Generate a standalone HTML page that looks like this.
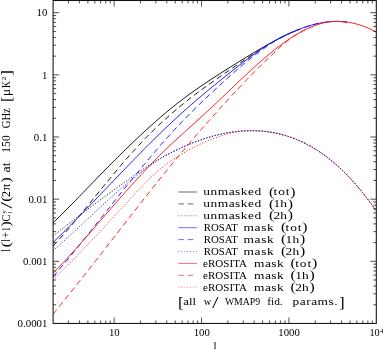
<!DOCTYPE html>
<html><head><meta charset="utf-8"><title>plot</title>
<style>
html,body{margin:0;padding:0;background:#fff;}
body{width:383px;height:349px;overflow:hidden;}
svg{display:block;will-change:transform;}
text{font-family:"Liberation Serif",serif;fill:#000;white-space:pre;}
</style></head><body>
<svg width="383" height="349" viewBox="0 0 383 349">
<rect width="383" height="349" fill="#fff"/>
<defs><clipPath id="c"><rect x="53.1" y="0.5" width="323.2" height="322.9"/></clipPath></defs>
<g clip-path="url(#c)" fill="none" stroke-width="1" stroke-linejoin="round">
<path d="M53.1,222.81 L55.1,220.87 L57.1,218.92 L59.1,216.95 L61.1,214.97 L63.1,212.98 L65.1,210.97 L67.1,208.96 L69.1,206.94 L71.1,204.90 L73.1,202.86 L75.1,200.82 L77.1,198.77 L79.1,196.71 L81.1,194.65 L83.1,192.58 L85.1,190.52 L87.1,188.45 L89.1,186.38 L91.1,184.31 L93.1,182.25 L95.1,180.18 L97.1,178.12 L99.1,176.06 L101.1,174.01 L103.1,171.97 L105.1,169.93 L107.1,167.89 L109.1,165.87 L111.1,163.85 L113.1,161.83 L115.1,159.83 L117.1,157.83 L119.1,155.85 L121.1,153.87 L123.1,151.90 L125.1,149.94 L127.1,147.99 L129.1,146.05 L131.1,144.12 L133.1,142.20 L135.1,140.30 L137.1,138.40 L139.1,136.52 L141.1,134.65 L143.1,132.79 L145.1,130.95 L147.1,129.12 L149.1,127.31 L151.1,125.51 L153.1,123.72 L155.1,121.95 L157.1,120.19 L159.1,118.45 L161.1,116.73 L163.1,115.02 L165.1,113.33 L167.1,111.66 L169.1,110.00 L171.1,108.36 L173.1,106.75 L175.1,105.15 L177.1,103.56 L179.1,102.00 L181.1,100.46 L183.1,98.94 L185.1,97.44 L187.1,95.95 L189.1,94.49 L191.1,93.04 L193.1,91.61 L195.1,90.20 L197.1,88.80 L199.1,87.41 L201.1,86.04 L203.1,84.68 L205.1,83.34 L207.1,82.00 L209.1,80.68 L211.1,79.36 L213.1,78.06 L215.1,76.76 L217.1,75.48 L219.1,74.20 L221.1,72.92 L223.1,71.65 L225.1,70.39 L227.1,69.13 L229.1,67.87 L231.1,66.61 L233.1,65.36 L235.1,64.11 L237.1,62.87 L239.1,61.63 L241.1,60.39 L243.1,59.16 L245.1,57.93 L247.1,56.71 L249.1,55.50 L251.1,54.29 L253.1,53.10 L255.1,51.91 L257.1,50.73 L259.1,49.55 L261.1,48.39 L263.1,47.24 L265.1,46.10 L267.1,44.97 L269.1,43.85 L271.1,42.75 L273.1,41.66 L275.1,40.58 L277.1,39.53 L279.1,38.49 L281.1,37.47 L283.1,36.47 L285.1,35.49 L287.1,34.53 L289.1,33.60 L291.1,32.70 L293.1,31.82 L295.1,30.97 L297.1,30.14 L299.1,29.35" stroke="#181818"/>
<path d="M53.1,246.00 L55.1,243.85 L57.1,241.67 L59.1,239.46 L61.1,237.23 L63.1,234.97 L65.1,232.68 L67.1,230.38 L69.1,228.06 L71.1,225.71 L73.1,223.35 L75.1,220.97 L77.1,218.58 L79.1,216.17 L81.1,213.75 L83.1,211.33 L85.1,208.89 L87.1,206.44 L89.1,203.99 L91.1,201.54 L93.1,199.08 L95.1,196.62 L97.1,194.15 L99.1,191.69 L101.1,189.24 L103.1,186.78 L105.1,184.34 L107.1,181.89 L109.1,179.46 L111.1,177.04 L113.1,174.63 L115.1,172.23 L117.1,169.84 L119.1,167.47 L121.1,165.12 L123.1,162.79 L125.1,160.47 L127.1,158.18 L129.1,155.91 L131.1,153.66 L133.1,151.44 L135.1,149.25 L137.1,147.08 L139.1,144.94 L141.1,142.83 L143.1,140.73 L145.1,138.67 L147.1,136.63 L149.1,134.62 L151.1,132.62 L153.1,130.66 L155.1,128.72 L157.1,126.80 L159.1,124.90 L161.1,123.03 L163.1,121.18 L165.1,119.36 L167.1,117.55 L169.1,115.77 L171.1,114.01 L173.1,112.27 L175.1,110.56 L177.1,108.86 L179.1,107.19 L181.1,105.54 L183.1,103.91 L185.1,102.29 L187.1,100.70 L189.1,99.13 L191.1,97.58 L193.1,96.04 L195.1,94.52 L197.1,93.02 L199.1,91.53 L201.1,90.06 L203.1,88.60 L205.1,87.15 L207.1,85.71 L209.1,84.29 L211.1,82.87 L213.1,81.47 L215.1,80.07 L217.1,78.68 L219.1,77.29 L221.1,75.91 L223.1,74.54 L225.1,73.17 L227.1,71.80 L229.1,70.43 L231.1,69.07 L233.1,67.70 L235.1,66.34 L237.1,64.98 L239.1,63.63 L241.1,62.28 L243.1,60.93 L245.1,59.59 L247.1,58.26 L249.1,56.94 L251.1,55.63 L253.1,54.33 L255.1,53.04 L257.1,51.75 L259.1,50.46 L261.1,49.18 L263.1,47.90 L265.1,46.65 L267.1,45.41 L269.1,44.20 L271.1,43.02 L273.1,41.86 L275.1,40.73 L277.1,39.63 L279.1,38.55 L281.1,37.51 L283.1,36.49 L285.1,35.50 L287.1,34.54 L289.1,33.60 L291.1,32.70 L293.1,31.82 L295.1,30.97 L297.1,30.14 L299.1,29.35" stroke="#181818" stroke-dasharray="5.7 3.7"/>
<path d="M53.1,236.08 L55.1,234.48 L57.1,232.88 L59.1,231.29 L61.1,229.71 L63.1,228.13 L65.1,226.56 L67.1,225.00 L69.1,223.44 L71.1,221.89 L73.1,220.35 L75.1,218.81 L77.1,217.27 L79.1,215.75 L81.1,214.22 L83.1,212.71 L85.1,211.20 L87.1,209.69 L89.1,208.19 L91.1,206.70 L93.1,205.21 L95.1,203.72 L97.1,202.24 L99.1,200.77 L101.1,199.29 L103.1,197.83 L105.1,196.36 L107.1,194.91 L109.1,193.45 L111.1,192.00 L113.1,190.56 L115.1,189.11 L117.1,187.67 L119.1,186.24 L121.1,184.81 L123.1,183.38 L125.1,181.95 L127.1,180.53 L129.1,179.11 L131.1,177.69 L133.1,176.28 L135.1,174.87 L137.1,173.47 L139.1,172.08 L141.1,170.70 L143.1,169.34 L145.1,167.99 L147.1,166.66 L149.1,165.34 L151.1,164.05 L153.1,162.78 L155.1,161.54 L157.1,160.33 L159.1,159.14 L161.1,157.98 L163.1,156.86 L165.1,155.76 L167.1,154.70 L169.1,153.65 L171.1,152.64 L173.1,151.64 L175.1,150.66 L177.1,149.71 L179.1,148.77 L181.1,147.85 L183.1,146.95 L185.1,146.07 L187.1,145.21 L189.1,144.37 L191.1,143.55 L193.1,142.76 L195.1,141.98 L197.1,141.23 L199.1,140.50 L201.1,139.79 L203.1,139.11 L205.1,138.45 L207.1,137.81 L209.1,137.20 L211.1,136.61 L213.1,136.05 L215.1,135.52 L217.1,135.01 L219.1,134.52 L221.1,134.07 L223.1,133.64 L225.1,133.24 L227.1,132.87 L229.1,132.52 L231.1,132.21 L233.1,131.92 L235.1,131.66 L237.1,131.43 L239.1,131.23 L241.1,131.06 L243.1,130.92 L245.1,130.81 L247.1,130.73 L249.1,130.68 L251.1,130.66 L253.1,130.68 L255.1,130.72 L257.1,130.80 L259.1,130.91 L261.1,131.05 L263.1,131.22 L265.1,131.43 L267.1,131.67 L269.1,131.95 L271.1,132.26 L273.1,132.60 L275.1,132.99 L277.1,133.40 L279.1,133.86 L281.1,134.35 L283.1,134.88 L285.1,135.45 L287.1,136.06 L289.1,136.70 L291.1,137.39 L293.1,138.12 L295.1,138.89 L297.1,139.70 L299.1,140.55 L301.1,141.45 L303.1,142.39 L305.1,143.37 L307.1,144.40 L309.1,145.47 L311.1,146.59 L313.1,147.75 L315.1,148.96 L317.1,150.22 L319.1,151.52 L321.1,152.87 L323.1,154.27 L325.1,155.72 L327.1,157.22 L329.1,158.77 L331.1,160.37 L333.1,162.02 L335.1,163.73 L337.1,165.48 L339.1,167.29 L341.1,169.15 L343.1,171.06 L345.1,173.03 L347.1,175.06 L349.1,177.14 L351.1,179.27 L353.1,181.46 L355.1,183.71 L357.1,186.02 L359.1,188.38 L361.1,190.80 L363.1,193.29 L365.1,195.83 L367.1,198.43 L369.1,201.09 L371.1,203.81 L373.1,206.60 L376.3,211.18" stroke="#181818" stroke-dasharray="1.2 1.75" stroke-width="0.95"/>
<path d="M53.1,242.42 L55.1,240.48 L57.1,238.53 L59.1,236.57 L61.1,234.60 L63.1,232.62 L65.1,230.63 L67.1,228.63 L69.1,226.62 L71.1,224.61 L73.1,222.58 L75.1,220.55 L77.1,218.52 L79.1,216.48 L81.1,214.43 L83.1,212.38 L85.1,210.32 L87.1,208.25 L89.1,206.19 L91.1,204.12 L93.1,202.04 L95.1,199.97 L97.1,197.89 L99.1,195.80 L101.1,193.72 L103.1,191.64 L105.1,189.55 L107.1,187.46 L109.1,185.38 L111.1,183.29 L113.1,181.21 L115.1,179.12 L117.1,177.04 L119.1,174.96 L121.1,172.88 L123.1,170.80 L125.1,168.73 L127.1,166.66 L129.1,164.60 L131.1,162.54 L133.1,160.48 L135.1,158.43 L137.1,156.38 L139.1,154.34 L141.1,152.31 L143.1,150.28 L145.1,148.27 L147.1,146.25 L149.1,144.25 L151.1,142.26 L153.1,140.27 L155.1,138.29 L157.1,136.33 L159.1,134.37 L161.1,132.42 L163.1,130.49 L165.1,128.56 L167.1,126.65 L169.1,124.75 L171.1,122.86 L173.1,120.99 L175.1,119.13 L177.1,117.28 L179.1,115.44 L181.1,113.62 L183.1,111.82 L185.1,110.03 L187.1,108.26 L189.1,106.50 L191.1,104.75 L193.1,103.02 L195.1,101.29 L197.1,99.59 L199.1,97.89 L201.1,96.20 L203.1,94.52 L205.1,92.85 L207.1,91.19 L209.1,89.54 L211.1,87.90 L213.1,86.26 L215.1,84.64 L217.1,83.01 L219.1,81.39 L221.1,79.78 L223.1,78.17 L225.1,76.57 L227.1,74.97 L229.1,73.37 L231.1,71.79 L233.1,70.21 L235.1,68.63 L237.1,67.07 L239.1,65.51 L241.1,63.97 L243.1,62.44 L245.1,60.92 L247.1,59.42 L249.1,57.93 L251.1,56.46 L253.1,54.97 L255.1,53.49 L257.1,52.03 L259.1,50.59 L261.1,49.19 L263.1,47.83 L265.1,46.51 L267.1,45.25 L269.1,44.02 L271.1,42.84 L273.1,41.70 L275.1,40.60 L277.1,39.52 L279.1,38.48 L281.1,37.46 L283.1,36.47 L285.1,35.49 L287.1,34.53 L289.1,33.60 L291.1,32.70 L293.1,31.82 L295.1,30.97 L297.1,30.14 L299.1,29.35 L301.1,28.58 L303.1,27.85 L305.1,27.15 L307.1,26.49 L309.1,25.86 L311.1,25.27 L313.1,24.72 L315.1,24.20 L317.1,23.73 L319.1,23.29 L321.1,22.90 L323.1,22.55 L325.1,22.25 L327.1,21.99 L329.1,21.78 L331.1,21.62 L333.1,21.51 L335.1,21.44 L337.1,21.43 L339.1,21.46 L341.1,21.55 L343.1,21.68 L345.1,21.87 L347.1,22.12" stroke="#2020ff"/>
<path d="M53.1,276.75 L55.1,274.42 L57.1,272.07 L59.1,269.70 L61.1,267.33 L63.1,264.94 L65.1,262.54 L67.1,260.12 L69.1,257.70 L71.1,255.27 L73.1,252.82 L75.1,250.37 L77.1,247.91 L79.1,245.44 L81.1,242.97 L83.1,240.48 L85.1,237.99 L87.1,235.50 L89.1,233.00 L91.1,230.50 L93.1,227.99 L95.1,225.48 L97.1,222.96 L99.1,220.45 L101.1,217.93 L103.1,215.41 L105.1,212.89 L107.1,210.38 L109.1,207.86 L111.1,205.34 L113.1,202.83 L115.1,200.32 L117.1,197.81 L119.1,195.31 L121.1,192.80 L123.1,190.31 L125.1,187.82 L127.1,185.34 L129.1,182.86 L131.1,180.39 L133.1,177.93 L135.1,175.47 L137.1,173.03 L139.1,170.59 L141.1,168.17 L143.1,165.75 L145.1,163.35 L147.1,160.96 L149.1,158.58 L151.1,156.22 L153.1,153.87 L155.1,151.53 L157.1,149.20 L159.1,146.90 L161.1,144.61 L163.1,142.33 L165.1,140.07 L167.1,137.83 L169.1,135.61 L171.1,133.41 L173.1,131.23 L175.1,129.06 L177.1,126.92 L179.1,124.80 L181.1,122.70 L183.1,120.62 L185.1,118.56 L187.1,116.52 L189.1,114.50 L191.1,112.49 L193.1,110.51 L195.1,108.53 L197.1,106.58 L199.1,104.63 L201.1,102.71 L203.1,100.79 L205.1,98.88 L207.1,96.99 L209.1,95.11 L211.1,93.23 L213.1,91.37 L215.1,89.51 L217.1,87.65 L219.1,85.81 L221.1,83.97 L223.1,82.14 L225.1,80.32 L227.1,78.51 L229.1,76.71 L231.1,74.92 L233.1,73.15 L235.1,71.39 L237.1,69.65 L239.1,67.93 L241.1,66.23 L243.1,64.54 L245.1,62.88 L247.1,61.25 L249.1,59.63 L251.1,58.05 L253.1,56.49 L255.1,54.95 L257.1,53.45 L259.1,51.97 L261.1,50.51 L263.1,49.06 L265.1,47.62 L267.1,46.20 L269.1,44.82 L271.1,43.49 L273.1,42.20 L275.1,40.96 L277.1,39.78 L279.1,38.64 L281.1,37.55 L283.1,36.50 L285.1,35.50 L287.1,34.53 L289.1,33.60 L291.1,32.69 L293.1,31.82 L295.1,30.97 L297.1,30.14 L299.1,29.35 L301.1,28.58 L303.1,27.85 L305.1,27.15 L307.1,26.49 L309.1,25.86 L311.1,25.27 L313.1,24.72 L315.1,24.20 L317.1,23.73 L319.1,23.29 L321.1,22.90 L323.1,22.55 L325.1,22.25 L327.1,21.99 L329.1,21.78 L331.1,21.62 L333.1,21.51 L335.1,21.44 L337.1,21.43 L339.1,21.46 L341.1,21.55 L343.1,21.68 L345.1,21.87 L347.1,22.12" stroke="#2020ff" stroke-dasharray="5.7 3.7"/>
<path d="M53.1,250.66 L55.1,248.88 L57.1,247.09 L59.1,245.29 L61.1,243.48 L63.1,241.66 L65.1,239.84 L67.1,238.00 L69.1,236.16 L71.1,234.32 L73.1,232.46 L75.1,230.61 L77.1,228.75 L79.1,226.89 L81.1,225.03 L83.1,223.16 L85.1,221.30 L87.1,219.44 L89.1,217.58 L91.1,215.72 L93.1,213.86 L95.1,212.01 L97.1,210.16 L99.1,208.32 L101.1,206.49 L103.1,204.66 L105.1,202.84 L107.1,201.03 L109.1,199.23 L111.1,197.44 L113.1,195.66 L115.1,193.89 L117.1,192.14 L119.1,190.40 L121.1,188.67 L123.1,186.96 L125.1,185.26 L127.1,183.58 L129.1,181.92 L131.1,180.28 L133.1,178.66 L135.1,177.05 L137.1,175.47 L139.1,173.91 L141.1,172.37 L143.1,170.86 L145.1,169.37 L147.1,167.90 L149.1,166.46 L151.1,165.04 L153.1,163.63 L155.1,162.24 L157.1,160.88 L159.1,159.55 L161.1,158.27 L163.1,157.04 L165.1,155.86 L167.1,154.73 L169.1,153.65 L171.1,152.61 L173.1,151.62 L175.1,150.65 L177.1,149.70 L179.1,148.77 L181.1,147.85 L183.1,146.95 L185.1,146.07 L187.1,145.21 L189.1,144.37 L191.1,143.55 L193.1,142.76 L195.1,141.98 L197.1,141.23 L199.1,140.50 L201.1,139.79 L203.1,139.11 L205.1,138.45 L207.1,137.81 L209.1,137.20 L211.1,136.61 L213.1,136.05 L215.1,135.52 L217.1,135.01 L219.1,134.52 L221.1,134.07 L223.1,133.64 L225.1,133.24 L227.1,132.87 L229.1,132.52 L231.1,132.21 L233.1,131.92 L235.1,131.66 L237.1,131.43 L239.1,131.23 L241.1,131.06 L243.1,130.92 L245.1,130.81 L247.1,130.73 L249.1,130.68 L251.1,130.66 L253.1,130.68 L255.1,130.72 L257.1,130.80 L259.1,130.91 L261.1,131.05 L263.1,131.22 L265.1,131.43 L267.1,131.67 L269.1,131.95 L271.1,132.26 L273.1,132.60 L275.1,132.99 L277.1,133.40 L279.1,133.86 L281.1,134.35 L283.1,134.88 L285.1,135.45 L287.1,136.06 L289.1,136.70 L291.1,137.39 L293.1,138.12 L295.1,138.89 L297.1,139.70 L299.1,140.55 L301.1,141.45 L303.1,142.39 L305.1,143.37 L307.1,144.40 L309.1,145.47 L311.1,146.59 L313.1,147.75 L315.1,148.96 L317.1,150.22 L319.1,151.52 L321.1,152.87 L323.1,154.27 L325.1,155.72 L327.1,157.22 L329.1,158.77 L331.1,160.37 L333.1,162.02 L335.1,163.73 L337.1,165.48 L339.1,167.29 L341.1,169.15 L343.1,171.06 L345.1,173.03 L347.1,175.06 L349.1,177.14 L351.1,179.27 L353.1,181.46 L355.1,183.71 L357.1,186.02 L359.1,188.38 L361.1,190.80 L363.1,193.29 L365.1,195.83 L367.1,198.43 L369.1,201.09 L371.1,203.81 L373.1,206.60 L376.3,211.18" stroke="#2020ff" stroke-dasharray="1.2 1.75" stroke-width="0.95"/>
<path d="M53.1,273.29 L55.1,271.22 L57.1,269.13 L59.1,267.02 L61.1,264.90 L63.1,262.75 L65.1,260.59 L67.1,258.42 L69.1,256.23 L71.1,254.03 L73.1,251.81 L75.1,249.59 L77.1,247.35 L79.1,245.10 L81.1,242.84 L83.1,240.58 L85.1,238.30 L87.1,236.02 L89.1,233.73 L91.1,231.44 L93.1,229.14 L95.1,226.84 L97.1,224.53 L99.1,222.23 L101.1,219.92 L103.1,217.61 L105.1,215.30 L107.1,212.99 L109.1,210.68 L111.1,208.38 L113.1,206.08 L115.1,203.78 L117.1,201.49 L119.1,199.20 L121.1,196.92 L123.1,194.65 L125.1,192.39 L127.1,190.14 L129.1,187.89 L131.1,185.66 L133.1,183.43 L135.1,181.22 L137.1,179.03 L139.1,176.84 L141.1,174.67 L143.1,172.52 L145.1,170.38 L147.1,168.26 L149.1,166.16 L151.1,164.08 L153.1,162.02 L155.1,159.97 L157.1,157.95 L159.1,155.95 L161.1,153.97 L163.1,152.02 L165.1,150.08 L167.1,148.17 L169.1,146.27 L171.1,144.39 L173.1,142.52 L175.1,140.67 L177.1,138.83 L179.1,137.00 L181.1,135.18 L183.1,133.36 L185.1,131.55 L187.1,129.75 L189.1,127.94 L191.1,126.14 L193.1,124.34 L195.1,122.54 L197.1,120.73 L199.1,118.92 L201.1,117.10 L203.1,115.27 L205.1,113.44 L207.1,111.59 L209.1,109.73 L211.1,107.86 L213.1,105.98 L215.1,104.10 L217.1,102.20 L219.1,100.30 L221.1,98.40 L223.1,96.49 L225.1,94.58 L227.1,92.67 L229.1,90.75 L231.1,88.84 L233.1,86.93 L235.1,85.03 L237.1,83.13 L239.1,81.23 L241.1,79.34 L243.1,77.46 L245.1,75.59 L247.1,73.72 L249.1,71.87 L251.1,70.03 L253.1,68.21 L255.1,66.40 L257.1,64.60 L259.1,62.83 L261.1,61.07 L263.1,59.33 L265.1,57.61 L267.1,55.92 L269.1,54.24 L271.1,52.60 L273.1,50.98 L275.1,49.38 L277.1,47.82 L279.1,46.29 L281.1,44.79 L283.1,43.32 L285.1,41.89 L287.1,40.50 L289.1,39.14 L291.1,37.82 L293.1,36.54 L295.1,35.30 L297.1,34.11 L299.1,32.96 L301.1,31.86 L303.1,30.81 L305.1,29.80 L307.1,28.84 L309.1,27.94 L311.1,27.08 L313.1,26.26 L315.1,25.47 L317.1,24.75 L319.1,24.08 L321.1,23.49 L323.1,22.98 L325.1,22.54 L327.1,22.18 L329.1,21.90 L331.1,21.68 L333.1,21.53 L335.1,21.45 L337.1,21.43 L339.1,21.46 L341.1,21.54 L343.1,21.68 L345.1,21.87 L347.1,22.12 L349.1,22.42 L351.1,22.77 L353.1,23.18 L355.1,23.64 L357.1,24.16 L359.1,24.74 L361.1,25.38 L363.1,26.08 L365.1,26.83 L367.1,27.65 L369.1,28.53 L371.1,29.47 L373.1,30.48 L376.3,32.22" stroke="#ff2020"/>
<path d="M53.1,313.94 L55.1,311.52 L57.1,309.09 L59.1,306.65 L61.1,304.21 L63.1,301.75 L65.1,299.28 L67.1,296.81 L69.1,294.33 L71.1,291.84 L73.1,289.34 L75.1,286.84 L77.1,284.33 L79.1,281.81 L81.1,279.29 L83.1,276.76 L85.1,274.23 L87.1,271.69 L89.1,269.15 L91.1,266.61 L93.1,264.06 L95.1,261.50 L97.1,258.95 L99.1,256.39 L101.1,253.82 L103.1,251.26 L105.1,248.69 L107.1,246.13 L109.1,243.56 L111.1,240.99 L113.1,238.42 L115.1,235.85 L117.1,233.28 L119.1,230.71 L121.1,228.14 L123.1,225.58 L125.1,223.01 L127.1,220.45 L129.1,217.89 L131.1,215.33 L133.1,212.77 L135.1,210.22 L137.1,207.67 L139.1,205.13 L141.1,202.59 L143.1,200.05 L145.1,197.52 L147.1,194.99 L149.1,192.47 L151.1,189.96 L153.1,187.45 L155.1,184.95 L157.1,182.45 L159.1,179.97 L161.1,177.49 L163.1,175.02 L165.1,172.55 L167.1,170.10 L169.1,167.65 L171.1,165.21 L173.1,162.78 L175.1,160.36 L177.1,157.94 L179.1,155.53 L181.1,153.14 L183.1,150.75 L185.1,148.37 L187.1,146.00 L189.1,143.64 L191.1,141.28 L193.1,138.94 L195.1,136.60 L197.1,134.28 L199.1,131.96 L201.1,129.66 L203.1,127.36 L205.1,125.07 L207.1,122.79 L209.1,120.52 L211.1,118.27 L213.1,116.02 L215.1,113.78 L217.1,111.55 L219.1,109.33 L221.1,107.13 L223.1,104.93 L225.1,102.74 L227.1,100.57 L229.1,98.40 L231.1,96.24 L233.1,94.10 L235.1,91.97 L237.1,89.84 L239.1,87.73 L241.1,85.63 L243.1,83.54 L245.1,81.47 L247.1,79.40 L249.1,77.35 L251.1,75.30 L253.1,73.27 L255.1,71.25 L257.1,69.24 L259.1,67.25 L261.1,65.26 L263.1,63.29 L265.1,61.34 L267.1,59.40 L269.1,57.49 L271.1,55.59 L273.1,53.67 L275.1,51.76 L277.1,49.86 L279.1,47.99 L281.1,46.18 L283.1,44.42 L285.1,42.73 L287.1,41.11 L289.1,39.57 L291.1,38.10 L293.1,36.71 L295.1,35.40 L297.1,34.16 L299.1,32.98 L301.1,31.87 L303.1,30.81 L305.1,29.80 L307.1,28.84 L309.1,27.94 L311.1,27.08" stroke="#ff2020" stroke-dasharray="5.7 3.7"/>
<path d="M53.1,279.57 L55.1,277.62 L57.1,275.66 L59.1,273.70 L61.1,271.73 L63.1,269.75 L65.1,267.76 L67.1,265.77 L69.1,263.77 L71.1,261.76 L73.1,259.74 L75.1,257.72 L77.1,255.68 L79.1,253.64 L81.1,251.59 L83.1,249.52 L85.1,247.45 L87.1,245.37 L89.1,243.28 L91.1,241.18 L93.1,239.07 L95.1,236.95 L97.1,234.82 L99.1,232.68 L101.1,230.52 L103.1,228.36 L105.1,226.19 L107.1,224.01 L109.1,221.82 L111.1,219.63 L113.1,217.44 L115.1,215.24 L117.1,213.05 L119.1,210.85 L121.1,208.66 L123.1,206.48 L125.1,204.30 L127.1,202.12 L129.1,199.96 L131.1,197.81 L133.1,195.66 L135.1,193.54 L137.1,191.42 L139.1,189.33 L141.1,187.26 L143.1,185.22 L145.1,183.20 L147.1,181.22 L149.1,179.27 L151.1,177.36 L153.1,175.49 L155.1,173.66 L157.1,171.89 L159.1,170.16 L161.1,168.48 L163.1,166.86 L165.1,165.30 L167.1,163.78 L169.1,162.31 L171.1,160.88 L173.1,159.50 L175.1,158.16 L177.1,156.87 L179.1,155.61 L181.1,154.38 L183.1,153.19 L185.1,152.03 L187.1,150.91 L189.1,149.81 L191.1,148.73 L193.1,147.68 L195.1,146.66 L197.1,145.66 L199.1,144.68 L201.1,143.74 L203.1,142.82 L205.1,141.92 L207.1,141.06 L209.1,140.23 L211.1,139.42 L213.1,138.65 L215.1,137.91 L217.1,137.20 L219.1,136.52 L221.1,135.88 L223.1,135.27 L225.1,134.70 L227.1,134.15 L229.1,133.62 L231.1,133.12 L233.1,132.66 L235.1,132.24 L237.1,131.87 L239.1,131.55 L241.1,131.29 L243.1,131.07 L245.1,130.90 L247.1,130.78 L249.1,130.70 L251.1,130.67 L253.1,130.67 L255.1,130.72 L257.1,130.80 L259.1,130.91 L261.1,131.05 L263.1,131.22 L265.1,131.43 L267.1,131.67 L269.1,131.95 L271.1,132.26 L273.1,132.60 L275.1,132.99 L277.1,133.40 L279.1,133.86 L281.1,134.35 L283.1,134.88 L285.1,135.45 L287.1,136.06 L289.1,136.70 L291.1,137.39 L293.1,138.12 L295.1,138.89 L297.1,139.70 L299.1,140.55 L301.1,141.45 L303.1,142.39 L305.1,143.37 L307.1,144.40 L309.1,145.47 L311.1,146.59 L313.1,147.75 L315.1,148.96 L317.1,150.22 L319.1,151.52 L321.1,152.87 L323.1,154.27 L325.1,155.72 L327.1,157.22 L329.1,158.77 L331.1,160.37 L333.1,162.02 L335.1,163.73 L337.1,165.48 L339.1,167.29 L341.1,169.15 L343.1,171.06 L345.1,173.03 L347.1,175.06 L349.1,177.14 L351.1,179.27 L353.1,181.46 L355.1,183.71 L357.1,186.02 L359.1,188.38 L361.1,190.80 L363.1,193.29 L365.1,195.83 L367.1,198.43 L369.1,201.09 L371.1,203.81 L373.1,206.60 L376.3,211.18" stroke="#ff2020" stroke-dasharray="1.2 1.75" stroke-width="0.95"/>
</g>
<path d="M68.49,323.45v-3.00M68.49,0.50v3.00M79.40,323.45v-3.00M79.40,0.50v3.00M87.87,323.45v-3.00M87.87,0.50v3.00M94.79,323.45v-3.00M94.79,0.50v3.00M100.64,323.45v-3.00M100.64,0.50v3.00M105.71,323.45v-3.00M105.71,0.50v3.00M110.17,323.45v-3.00M110.17,0.50v3.00M114.17,323.45v-6.00M114.17,0.50v6.00M140.48,323.45v-3.00M140.48,0.50v3.00M155.86,323.45v-3.00M155.86,0.50v3.00M166.78,323.45v-3.00M166.78,0.50v3.00M175.25,323.45v-3.00M175.25,0.50v3.00M182.16,323.45v-3.00M182.16,0.50v3.00M188.01,323.45v-3.00M188.01,0.50v3.00M193.08,323.45v-3.00M193.08,0.50v3.00M197.55,323.45v-3.00M197.55,0.50v3.00M201.55,323.45v-6.00M201.55,0.50v6.00M227.85,323.45v-3.00M227.85,0.50v3.00M243.24,323.45v-3.00M243.24,0.50v3.00M254.15,323.45v-3.00M254.15,0.50v3.00M262.62,323.45v-3.00M262.62,0.50v3.00M269.54,323.45v-3.00M269.54,0.50v3.00M275.39,323.45v-3.00M275.39,0.50v3.00M280.46,323.45v-3.00M280.46,0.50v3.00M284.93,323.45v-3.00M284.93,0.50v3.00M288.92,323.45v-6.00M288.92,0.50v6.00M315.23,323.45v-3.00M315.23,0.50v3.00M330.61,323.45v-3.00M330.61,0.50v3.00M341.53,323.45v-3.00M341.53,0.50v3.00M350.00,323.45v-3.00M350.00,0.50v3.00M356.92,323.45v-3.00M356.92,0.50v3.00M362.77,323.45v-3.00M362.77,0.50v3.00M367.83,323.45v-3.00M367.83,0.50v3.00M372.30,323.45v-3.00M372.30,0.50v3.00M53.10,304.74h3.00M376.30,304.74h-3.00M53.10,293.80h3.00M376.30,293.80h-3.00M53.10,286.03h3.00M376.30,286.03h-3.00M53.10,280.01h3.00M376.30,280.01h-3.00M53.10,275.09h3.00M376.30,275.09h-3.00M53.10,270.93h3.00M376.30,270.93h-3.00M53.10,267.32h3.00M376.30,267.32h-3.00M53.10,264.14h3.00M376.30,264.14h-3.00M53.10,261.30h6.00M376.30,261.30h-6.00M53.10,242.59h3.00M376.30,242.59h-3.00M53.10,231.65h3.00M376.30,231.65h-3.00M53.10,223.88h3.00M376.30,223.88h-3.00M53.10,217.86h3.00M376.30,217.86h-3.00M53.10,212.94h3.00M376.30,212.94h-3.00M53.10,208.78h3.00M376.30,208.78h-3.00M53.10,205.17h3.00M376.30,205.17h-3.00M53.10,201.99h3.00M376.30,201.99h-3.00M53.10,199.15h6.00M376.30,199.15h-6.00M53.10,180.44h3.00M376.30,180.44h-3.00M53.10,169.50h3.00M376.30,169.50h-3.00M53.10,161.73h3.00M376.30,161.73h-3.00M53.10,155.71h3.00M376.30,155.71h-3.00M53.10,150.79h3.00M376.30,150.79h-3.00M53.10,146.63h3.00M376.30,146.63h-3.00M53.10,143.02h3.00M376.30,143.02h-3.00M53.10,139.84h3.00M376.30,139.84h-3.00M53.10,137.00h6.00M376.30,137.00h-6.00M53.10,118.29h3.00M376.30,118.29h-3.00M53.10,107.35h3.00M376.30,107.35h-3.00M53.10,99.58h3.00M376.30,99.58h-3.00M53.10,93.56h3.00M376.30,93.56h-3.00M53.10,88.64h3.00M376.30,88.64h-3.00M53.10,84.48h3.00M376.30,84.48h-3.00M53.10,80.87h3.00M376.30,80.87h-3.00M53.10,77.69h3.00M376.30,77.69h-3.00M53.10,74.85h6.00M376.30,74.85h-6.00M53.10,56.14h3.00M376.30,56.14h-3.00M53.10,45.20h3.00M376.30,45.20h-3.00M53.10,37.43h3.00M376.30,37.43h-3.00M53.10,31.41h3.00M376.30,31.41h-3.00M53.10,26.49h3.00M376.30,26.49h-3.00M53.10,22.33h3.00M376.30,22.33h-3.00M53.10,18.72h3.00M376.30,18.72h-3.00M53.10,15.54h3.00M376.30,15.54h-3.00M53.10,12.70h6.00M376.30,12.70h-6.00" stroke="#222" stroke-width="0.8" fill="none"/>
<rect x="53.10" y="0.50" width="323.20" height="322.95" fill="none" stroke="#111" stroke-width="1.05"/>
<text transform="translate(36.6,16.45) scale(1.2,1)" font-size="10"><tspan x="0" y="0" textLength="9" lengthAdjust="spacingAndGlyphs">10</tspan></text>
<text transform="translate(42,78.6) scale(1.2,1)" font-size="10"><tspan x="0" y="0" textLength="4.5" lengthAdjust="spacingAndGlyphs">1</tspan></text>
<text transform="translate(33.8,140.75) scale(1.2,1)" font-size="10"><tspan x="0" y="0" textLength="11.33" lengthAdjust="spacingAndGlyphs">0.1</tspan></text>
<text transform="translate(28.4,202.9) scale(1.2,1)" font-size="10"><tspan x="0" y="0" textLength="15.83" lengthAdjust="spacingAndGlyphs">0.01</tspan></text>
<text transform="translate(23,265.05) scale(1.2,1)" font-size="10"><tspan x="0" y="0" textLength="20.33" lengthAdjust="spacingAndGlyphs">0.001</tspan></text>
<text transform="translate(17.6,327.2) scale(1.2,1)" font-size="10"><tspan x="0" y="0" textLength="24.83" lengthAdjust="spacingAndGlyphs">0.0001</tspan></text>
<text transform="translate(108.97,335.6) scale(1.2,1)" font-size="10"><tspan x="0" y="0" textLength="9" lengthAdjust="spacingAndGlyphs">10</tspan></text>
<text transform="translate(193.65,335.6) scale(1.2,1)" font-size="10"><tspan x="0" y="0" textLength="13.5" lengthAdjust="spacingAndGlyphs">100</tspan></text>
<text transform="translate(278.32,335.6) scale(1.2,1)" font-size="10"><tspan x="0" y="0" textLength="18" lengthAdjust="spacingAndGlyphs">1000</tspan></text>
<text transform="translate(369.4,335.6) scale(1.2,1)" font-size="10"><tspan x="0" y="0" textLength="8.58" lengthAdjust="spacingAndGlyphs">10</tspan><tspan x="8.92" y="-2.3" font-size="6.5" textLength="3" lengthAdjust="spacingAndGlyphs">4</tspan></text>
<text x="213.4" y="349.3" font-size="11">l</text>
<text transform="translate(9.5,252) rotate(-90) scale(1.2,1)" font-size="11.5"><tspan x="0.5" y="0" textLength="2" lengthAdjust="spacingAndGlyphs">l</tspan><tspan x="3.94" y="0.3" font-size="13.1">(</tspan><tspan x="8.58" y="0" textLength="2" lengthAdjust="spacingAndGlyphs">l</tspan><tspan x="11.67" y="0" textLength="5" lengthAdjust="spacingAndGlyphs">+</tspan><tspan x="17.5" y="0" textLength="3" lengthAdjust="spacingAndGlyphs">1</tspan><tspan x="21.23" y="0.3" font-size="13.1">)</tspan><tspan x="25.42" y="0" textLength="5.83" lengthAdjust="spacingAndGlyphs">C</tspan><tspan x="31.92" y="-3.6" font-size="7" textLength="3.17" lengthAdjust="spacingAndGlyphs">y</tspan><tspan x="32.33" y="2.2" font-size="7" textLength="1.33" lengthAdjust="spacingAndGlyphs">l</tspan><tspan x="36.17" y="2.8" font-size="17" textLength="5.33" lengthAdjust="spacingAndGlyphs">/</tspan><tspan x="41.94" y="0.3" font-size="13.1">(</tspan><tspan x="45.83" y="0" textLength="5" lengthAdjust="spacingAndGlyphs">2</tspan><tspan x="51.17" y="0" textLength="5.67" lengthAdjust="spacingAndGlyphs">π</tspan><tspan x="57.82" y="0.3" font-size="13.1">)</tspan> <tspan x="66.17" y="0" letter-spacing="0.2">at</tspan> <tspan x="82.75" y="0" textLength="14.5" lengthAdjust="spacingAndGlyphs">150</tspan> <tspan x="103.17" y="0" textLength="16.67" lengthAdjust="spacingAndGlyphs">GHz</tspan> <tspan x="124.96" y="1.9" font-size="14.2">[</tspan><tspan x="130" y="0" textLength="5.83" lengthAdjust="spacingAndGlyphs">μ</tspan><tspan x="136.67" y="0" textLength="5.67" lengthAdjust="spacingAndGlyphs">K</tspan><tspan x="142.92" y="-3.8" font-size="7" textLength="3.33" lengthAdjust="spacingAndGlyphs">2</tspan><tspan x="146.99" y="1.9" font-size="14.2">]</tspan></text>
<path d="M178.3,192H197" stroke="#181818" stroke-width="1" fill="none" opacity="0.65"/>
<text transform="translate(203,195.3) scale(1.2,1)" font-size="11.2"><tspan x="0.25" y="0" letter-spacing="0.41">unmasked</tspan> <tspan x="54.94" y="0.3" font-size="13.1">(</tspan><tspan x="58.75" y="0" letter-spacing="0.75">tot</tspan><tspan x="72.73" y="0.3" font-size="13.1">)</tspan></text>
<path d="M178.3,203.9H197" stroke="#181818" stroke-width="1" fill="none" stroke-dasharray="5.7 3.7" opacity="0.65"/>
<text transform="translate(203,207.2) scale(1.2,1)" font-size="11.2"><tspan x="0.25" y="0" letter-spacing="0.41">unmasked</tspan> <tspan x="54.94" y="0.3" font-size="13.1">(</tspan><tspan x="58.75" y="0" letter-spacing="0.13">1h</tspan><tspan x="70.73" y="0.3" font-size="13.1">)</tspan></text>
<path d="M178.3,215.8H197" stroke="#181818" stroke-width="1" fill="none" stroke-dasharray="1.2 1.75" opacity="0.5"/>
<text transform="translate(203,219.1) scale(1.2,1)" font-size="11.2"><tspan x="0.25" y="0" letter-spacing="0.41">unmasked</tspan> <tspan x="54.94" y="0.3" font-size="13.1">(</tspan><tspan x="58.75" y="0" letter-spacing="0.13">2h</tspan><tspan x="70.73" y="0.3" font-size="13.1">)</tspan></text>
<path d="M178.3,227.7H197" stroke="#2020ff" stroke-width="1" fill="none" opacity="0.65"/>
<text transform="translate(203,231) scale(1.2,1)" font-size="11.2"><tspan x="0.58" y="0" textLength="28.58" lengthAdjust="spacingAndGlyphs">ROSAT</tspan> <tspan x="33.75" y="0" letter-spacing="0.54">mask</tspan> <tspan x="65.02" y="0.3" font-size="13.1">(</tspan><tspan x="68.83" y="0" letter-spacing="0.75">tot</tspan><tspan x="82.82" y="0.3" font-size="13.1">)</tspan></text>
<path d="M178.3,239.6H197" stroke="#2020ff" stroke-width="1" fill="none" stroke-dasharray="5.7 3.7" opacity="0.65"/>
<text transform="translate(203,242.9) scale(1.2,1)" font-size="11.2"><tspan x="0.58" y="0" textLength="28.58" lengthAdjust="spacingAndGlyphs">ROSAT</tspan> <tspan x="33.75" y="0" letter-spacing="0.54">mask</tspan> <tspan x="65.02" y="0.3" font-size="13.1">(</tspan><tspan x="68.83" y="0" letter-spacing="0.13">1h</tspan><tspan x="80.82" y="0.3" font-size="13.1">)</tspan></text>
<path d="M178.3,251.5H197" stroke="#2020ff" stroke-width="1" fill="none" stroke-dasharray="1.2 1.75" opacity="0.5"/>
<text transform="translate(203,254.8) scale(1.2,1)" font-size="11.2"><tspan x="0.58" y="0" textLength="28.58" lengthAdjust="spacingAndGlyphs">ROSAT</tspan> <tspan x="33.75" y="0" letter-spacing="0.54">mask</tspan> <tspan x="65.02" y="0.3" font-size="13.1">(</tspan><tspan x="68.83" y="0" letter-spacing="0.13">2h</tspan><tspan x="80.82" y="0.3" font-size="13.1">)</tspan></text>
<path d="M178.3,263.4H197" stroke="#ff2020" stroke-width="1" fill="none" opacity="0.65"/>
<text transform="translate(203,266.7) scale(1.2,1)" font-size="11.2"><tspan x="0.08" y="0" textLength="36.58" lengthAdjust="spacingAndGlyphs">eROSITA</tspan> <tspan x="42.5" y="0" letter-spacing="0.4">mask</tspan> <tspan x="73.02" y="0.3" font-size="13.1">(</tspan><tspan x="76.83" y="0" letter-spacing="0.75">tot</tspan><tspan x="90.82" y="0.3" font-size="13.1">)</tspan></text>
<path d="M178.3,275.3H197" stroke="#ff2020" stroke-width="1" fill="none" stroke-dasharray="5.7 3.7" opacity="0.65"/>
<text transform="translate(203,278.6) scale(1.2,1)" font-size="11.2"><tspan x="0.08" y="0" textLength="36.58" lengthAdjust="spacingAndGlyphs">eROSITA</tspan> <tspan x="42.5" y="0" letter-spacing="0.4">mask</tspan> <tspan x="73.02" y="0.3" font-size="13.1">(</tspan><tspan x="76.83" y="0" letter-spacing="0.13">1h</tspan><tspan x="88.82" y="0.3" font-size="13.1">)</tspan></text>
<path d="M178.3,287.2H197" stroke="#ff2020" stroke-width="1" fill="none" stroke-dasharray="1.2 1.75" opacity="0.5"/>
<text transform="translate(203,290.5) scale(1.2,1)" font-size="11.2"><tspan x="0.08" y="0" textLength="36.58" lengthAdjust="spacingAndGlyphs">eROSITA</tspan> <tspan x="42.5" y="0" letter-spacing="0.4">mask</tspan> <tspan x="73.02" y="0.3" font-size="13.1">(</tspan><tspan x="76.83" y="0" letter-spacing="0.13">2h</tspan><tspan x="88.82" y="0.3" font-size="13.1">)</tspan></text>
<text transform="translate(179,305.4) scale(1.2,1)" font-size="11.2"><tspan x="-0.88" y="1.9" font-size="14.2">[</tspan><tspan x="3.5" y="0" textLength="10.67" lengthAdjust="spacingAndGlyphs">all</tspan> <tspan x="20.58" y="0" textLength="6.33" lengthAdjust="spacingAndGlyphs">w</tspan><tspan x="27.67" y="2.8" font-size="17" textLength="5.17" lengthAdjust="spacingAndGlyphs">/</tspan> <tspan x="38.25" y="0" textLength="29.42" lengthAdjust="spacingAndGlyphs">WMAP9</tspan> <tspan x="73.5" y="0" textLength="12.92" lengthAdjust="spacingAndGlyphs">fid.</tspan> <tspan x="94.67" y="0" letter-spacing="0.39">params.</tspan><tspan x="133.41" y="1.9" font-size="14.2">]</tspan></text>
</svg>
</body></html>
